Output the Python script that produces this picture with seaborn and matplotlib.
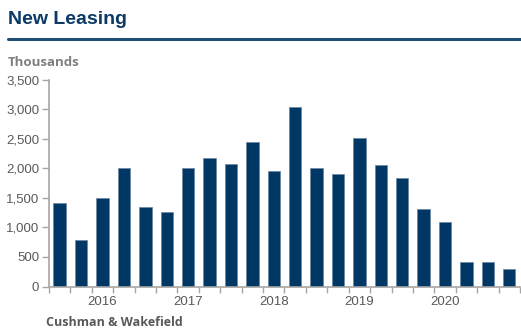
import matplotlib
matplotlib.use("Agg")
import matplotlib.pyplot as plt
from matplotlib.lines import Line2D
from matplotlib.ticker import FuncFormatter, FixedLocator
import seaborn as sns
import pandas as pd

# Quarterly new leasing, thousands of sq ft (2015 Q3 - 2020 Q4)
quarters = [
    "2015Q3", "2015Q4",
    "2016Q1", "2016Q2", "2016Q3", "2016Q4",
    "2017Q1", "2017Q2", "2017Q3", "2017Q4",
    "2018Q1", "2018Q2", "2018Q3", "2018Q4",
    "2019Q1", "2019Q2", "2019Q3", "2019Q4",
    "2020Q1", "2020Q2", "2020Q3", "2020Q4",
]
leasing = [
    1410, 790,
    1500, 2000, 1350, 1260,
    2000, 2170, 2080, 2440,
    1950, 3030, 2000, 1900,
    2520, 2050, 1830, 1310,
    1100, 420, 420, 290,
]
year_labels = ["2016", "2017", "2018", "2019", "2020"]

df = pd.DataFrame({"quarter": quarters, "leasing": leasing})

sns.set_style("white")
navy = "#003764"
tick_grey = "#595959"
label_grey = "#7f7f7f"
axis_grey = "#a6a6a6"

fig = plt.figure(figsize=(5.21, 3.33), dpi=100)
ax = fig.add_axes([0.094, 0.1396, 0.904, 0.6211])

sns.barplot(data=df, x="quarter", y="leasing", order=quarters,
            color=navy, width=0.58, saturation=1, ax=ax,
            edgecolor="#6f8aa6", linewidth=0.6)

ax.set_ylim(0, 3500)
ax.set_xlim(-0.5, len(quarters) - 0.5)
ax.set_yticks(range(0, 3501, 500))
ax.yaxis.set_major_formatter(FuncFormatter(lambda v, p: f"{int(v):,}"))

# Year labels under the first quarter of each year, ticks on category boundaries
label_pos = [quarters.index(y + "Q1") for y in year_labels]
ax.xaxis.set_major_locator(FixedLocator(label_pos))
ax.set_xticklabels(year_labels)
ax.xaxis.set_minor_locator(FixedLocator([i - 0.5 for i in range(len(quarters) + 1)]))
ax.tick_params(axis="x", which="major", length=0, pad=7, labelsize=9.5, labelcolor=tick_grey)
ax.tick_params(axis="x", which="minor", length=4, width=1, color=axis_grey, direction="out", bottom=True)
ax.tick_params(axis="y", length=5, width=1, color=axis_grey, direction="out", left=True,
               labelsize=9.5, labelcolor=tick_grey, pad=2)
for lab in ax.get_xticklabels() + ax.get_yticklabels():
    lab.set_fontfamily("Liberation Sans")

ax.set_xlabel("")
ax.set_ylabel("")
for side in ["top", "right"]:
    ax.spines[side].set_visible(False)
for side in ["left", "bottom"]:
    ax.spines[side].set_color(axis_grey)
    ax.spines[side].set_linewidth(1.2)
ax.grid(False)

fig.text(8 / 521, 1 - 19 / 333, "New Leasing", fontsize=14, fontweight="bold",
         color="#0b3a67", family="Liberation Sans", va="center", ha="left")
fig.add_artist(Line2D([8 / 521, 1.0], [1 - 39 / 333, 1 - 39 / 333],
                      color="#1f4e79", linewidth=2.2, transform=fig.transFigure))
fig.text(8 / 521, 1 - 62 / 333, "Thousands", fontsize=9.5, fontweight="bold",
         color=label_grey, family="Open Sans", va="center", ha="left")
fig.text(46 / 521, 1 - 322 / 333, "Cushman & Wakefield", fontsize=9, fontweight="bold",
         color=tick_grey, family="Open Sans", va="center", ha="left")

fig.savefig("out.png", dpi=100)
